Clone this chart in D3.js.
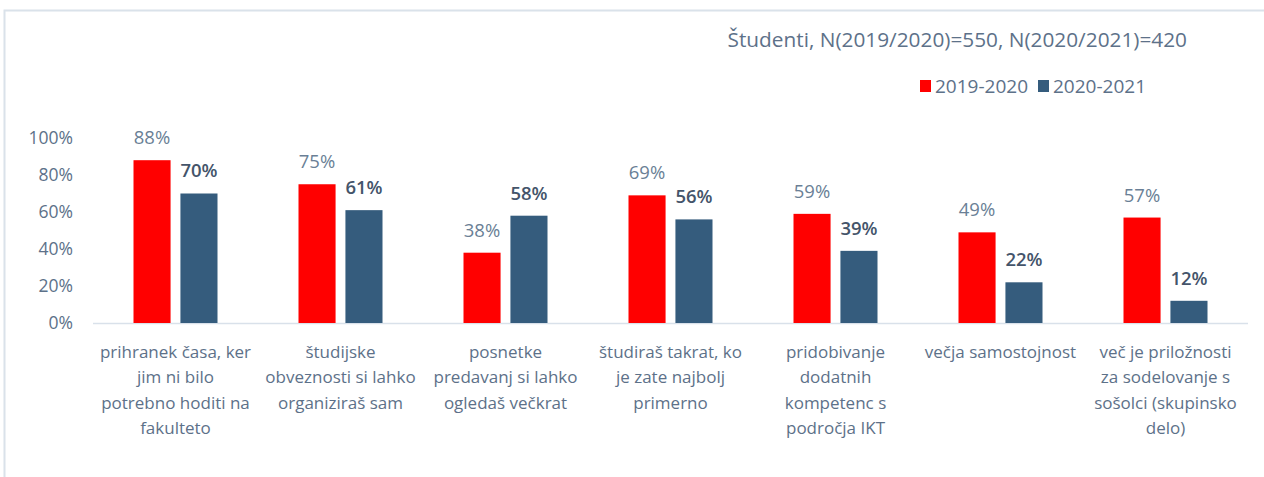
<!DOCTYPE html>
<html>
<head>
<meta charset="utf-8">
<script src="https://cdn.jsdelivr.net/npm/d3@7"></script>
<style>
  body { margin: 0; background: #fff; }
  svg text { font-family: "Open Sans", "Noto Sans", sans-serif; }
</style>
</head>
<body>
<div id="chart"></div>
<script>
// data
const categories = [
  "prihranek časa, ker\njim ni bilo\npotrebno hoditi na\nfakulteto",
  "študijske\nobveznosti si lahko\norganiziraš sam",
  "posnetke\npredavanj si lahko\nogledaš večkrat",
  "študiraš takrat, ko\nje zate najbolj\nprimerno",
  "pridobivanje\ndodatnih\nkompetenc s\npodročja IKT",
  "večja samostojnost",
  "več je priložnosti\nza sodelovanje s\nsošolci (skupinsko\ndelo)"
];
const series = ["2019-2020", "2020-2021"];
const values2019 = [88, 75, 38, 69, 59, 49, 57];
const values2020 = [70, 61, 58, 56, 39, 22, 12];
const yTicks = [0, 20, 40, 60, 80, 100];
const title = "Študenti, N(2019/2020)=550, N(2020/2021)=420";

const colors = ["#ff0000", "#355c7d"];
const labelColors = ["#6a7f96", "#44546a"];
const textColor = "#5d7189";

const W = 1264, H = 477;
const svg = d3.select("#chart").append("svg")
  .attr("width", W).attr("height", H);

// frame
svg.append("path")
  .attr("d", "M4.5," + H + " V10.5 H" + W)
  .attr("fill", "none").attr("stroke", "#dae2ea").attr("stroke-width", 2);

const x0 = d3.scaleBand().domain(d3.range(categories.length)).range([93, 1248]);
const x1 = d3.scaleBand().domain(series).range([x0.bandwidth()/2 - 42, x0.bandwidth()/2 + 42]).paddingInner(0.21);
const y = d3.scaleLinear().domain([0, 100]).range([323, 138]);

// y axis labels
svg.append("g").selectAll("text").data(yTicks).join("text")
  .attr("x", 73).attr("y", d => y(d)).attr("dy", "0.35em")
  .attr("text-anchor", "end").attr("font-size", 17.5).attr("fill", textColor)
  .text(d => d + "%");

// baseline
svg.append("line").attr("x1", 93).attr("x2", 1248).attr("y1", y(0) + 0.5).attr("y2", y(0) + 0.5)
  .attr("stroke", "#d9e1ea").attr("stroke-width", 1.5);

const rows = categories.map((c, i) => ({ i: i, v: [values2019[i], values2020[i]] }));

const groups = svg.append("g").selectAll("g").data(rows).join("g")
  .attr("transform", d => "translate(" + x0(d.i) + ",0)");

groups.selectAll("rect").data(d => d.v.map((v, k) => ({ k: k, v: v }))).join("rect")
  .attr("x", d => x1(series[d.k]))
  .attr("width", x1.bandwidth())
  .attr("y", d => y(d.v))
  .attr("height", d => y(0) - y(d.v))
  .attr("fill", d => colors[d.k]);

groups.selectAll("text.val").data(d => d.v.map((v, k) => ({ k: k, v: v }))).join("text")
  .attr("class", "val")
  .attr("x", d => x1(series[d.k]) + x1.bandwidth() / 2)
  .attr("y", d => y(d.v) - 22.5)
  .attr("dy", "0.35em")
  .attr("text-anchor", "middle").attr("font-size", 18.5)
  .attr("font-weight", d => d.k === 1 ? 600 : 400)
  .attr("fill", d => labelColors[d.k])
  .text(d => d.v + "%");

// category labels
groups.append("text")
  .attr("text-anchor", "middle").attr("font-size", 17).attr("fill", textColor)
  .selectAll("tspan").data(d => categories[d.i].split("\n")).join("tspan")
  .attr("x", x0.bandwidth() / 2)
  .attr("y", (d, j) => 352 + j * 25.3)
  .attr("dy", "0.35em")
  .text(d => d);

// title
svg.append("text").attr("x", 1187).attr("y", 40).attr("dy", "0.35em").attr("text-anchor", "end")
  .attr("font-size", 20.8).attr("fill", textColor).text(title);

// legend
const legendX = [920, 1038];
const legend = svg.append("g").selectAll("g").data(series).join("g")
  .attr("transform", (d, i) => "translate(" + legendX[i] + ",80)");
legend.append("rect").attr("width", 11).attr("height", 12).attr("fill", (d, i) => colors[i]);
legend.append("text").attr("x", 15).attr("y", 6).attr("dy", "0.35em")
  .attr("font-size", 19).attr("fill", textColor).text(d => d);
</script>
</body>
</html>
